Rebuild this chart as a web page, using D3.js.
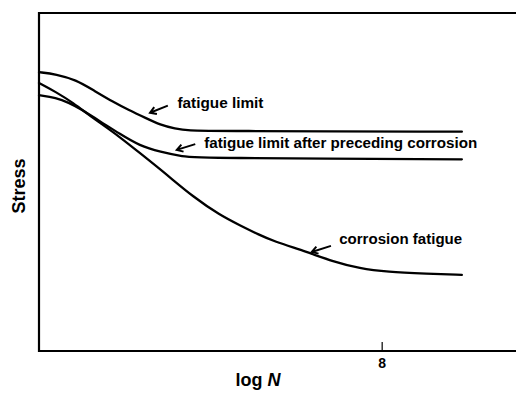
<!DOCTYPE html>
<html>
<head>
<meta charset="utf-8">
<script src="https://cdn.jsdelivr.net/npm/d3@7"></script>
<style>
  html, body { margin: 0; padding: 0; background: #fff; }
  svg { display: block; font-family: 'Liberation Sans', Arial, Helvetica, sans-serif; }
</style>
</head>
<body>
<svg id="chart"></svg>
<script>
// log N values and stress (arbitrary units, 0-100)
const fatigueLimit = [
  [3.0, 82.5], [3.25, 81.9], [3.54, 80.2], [3.79, 77.2], [4.08, 73.7], [4.31, 71.3],
  [4.56, 68.9], [4.77, 66.9], [4.98, 65.8], [5.2, 65.2], [5.5, 65.1], [9.17, 64.9],
];
const fatigueAfterCorrosion = [
  [3.0, 75.7], [3.25, 74.9], [3.44, 73.4], [3.58, 71.9], [3.89, 68.0], [4.18, 64.2],
  [4.47, 60.7], [4.77, 58.9], [5.1, 57.5], [5.35, 57.1], [9.17, 56.7],
];
const corrosionFatigue = [
  [3.0, 79.3], [3.25, 76.6], [3.5, 73.4], [3.73, 69.8], [3.89, 67.5], [4.18, 63.3],
  [4.47, 58.6], [4.87, 52.1], [5.25, 45.6], [5.64, 40.2], [5.93, 37.2], [6.22, 34.3],
  [6.41, 32.6], [6.91, 29.3], [7.29, 26.5], [7.68, 24.4], [8.08, 23.4], [8.66, 22.9],
  [9.17, 22.5],
];
const xTicks = [8];

// annotations: label position + arrow tail/head, all in data units
const labelText = ['fatigue limit', 'fatigue limit after preceding corrosion', 'corrosion fatigue'];
const labelAt = [[5.02, 72.0], [5.41, 60.0], [7.38, 31.7]];
const arrowTail = [[4.88, 72.6], [5.28, 61.2], [7.26, 31.1]];
const arrowHead = [[4.62, 70.5], [5.01, 59.5], [6.98, 29.3]];

const width = 516;
const height = 393;

const svg = d3.select('#chart').attr('width', width).attr('height', height);

const x = d3.scaleLinear().domain([3, 9.96]).range([39, 516]);
const y = d3.scaleLinear().domain([0, 100]).range([351, 13]);

function drawFrame() {
  const frame = svg.append('g').attr('class', 'frame');
  // left + bottom axis, plus the top border (no right border in the original)
  frame
    .append('path')
    .attr('d', `M${width},${y(100)} H${x(3)} V${y(0)} H${width}`)
    .attr('fill', 'none')
    .attr('stroke', '#000')
    .attr('stroke-width', 2.2);

  const xAxis = d3.axisBottom(x).tickValues(xTicks).tickSize(-9).tickFormat(d3.format('d'));
  const ax = svg.append('g').attr('transform', `translate(0,${y(0)})`).call(xAxis);
  ax.select('.domain').remove();
  ax.selectAll('.tick line').attr('stroke', '#000').attr('stroke-width', 1.2);
  ax.selectAll('.tick text')
    .attr('y', 16.5)
    .attr('dy', 0)
    .attr('fill', '#000')
    .style('font-size', '14px')
    .style('font-weight', 'bold')
    .style('font-family', "'Liberation Sans', Arial, sans-serif");

  svg
    .append('text')
    .attr('x', 258)
    .attr('y', 386)
    .attr('text-anchor', 'middle')
    .style('font-size', '18px')
    .style('font-weight', 'bold')
    .text('log ')
    .append('tspan')
    .style('font-style', 'italic')
    .text('N');

  svg
    .append('text')
    .attr('transform', 'translate(25,186) rotate(-90)')
    .attr('text-anchor', 'middle')
    .style('font-size', '18px')
    .style('font-weight', 'bold')
    .text('Stress');
}

function drawCurves() {
  const line = d3
    .line()
    .x((d) => x(d[0]))
    .y((d) => y(d[1]))
    .curve(d3.curveBasis);

  svg
    .append('g')
    .attr('class', 'curves')
    .selectAll('path')
    .data([fatigueLimit, fatigueAfterCorrosion, corrosionFatigue])
    .enter()
    .append('path')
    .attr('d', line)
    .attr('fill', 'none')
    .attr('stroke', '#000')
    .attr('stroke-width', 2.3)
    .attr('stroke-linecap', 'round');
}

function drawLabels() {
  const widths = [86, 273, 123];
  const g = svg.append('g').attr('class', 'labels');

  g.selectAll('text')
    .data(labelText)
    .enter()
    .append('text')
    .attr('x', (d, i) => x(labelAt[i][0]))
    .attr('y', (d, i) => y(labelAt[i][1]))
    .attr('textLength', (d, i) => widths[i])
    .attr('lengthAdjust', 'spacingAndGlyphs')
    .style('font-size', '14.5px')
    .style('font-weight', 'bold')
    .text((d) => d);

  // arrows: shaft plus two barbs at the head end
  const arrowPath = (i) => {
    const x1 = x(arrowTail[i][0]);
    const y1 = y(arrowTail[i][1]);
    const x2 = x(arrowHead[i][0]);
    const y2 = y(arrowHead[i][1]);
    const a = Math.atan2(y1 - y2, x1 - x2);
    const len = 7;
    const spread = 0.55;
    const b1x = x2 + len * Math.cos(a + spread);
    const b1y = y2 + len * Math.sin(a + spread);
    const b2x = x2 + len * Math.cos(a - spread);
    const b2y = y2 + len * Math.sin(a - spread);
    return `M${x1},${y1} L${x2},${y2} M${b1x},${b1y} L${x2},${y2} L${b2x},${b2y}`;
  };

  g.selectAll('path.arrow')
    .data(labelText)
    .enter()
    .append('path')
    .attr('class', 'arrow')
    .attr('d', (d, i) => arrowPath(i))
    .attr('fill', 'none')
    .attr('stroke', '#000')
    .attr('stroke-width', 2)
    .attr('stroke-linejoin', 'miter');
}

drawFrame();
drawCurves();
drawLabels();
</script>
</body>
</html>
